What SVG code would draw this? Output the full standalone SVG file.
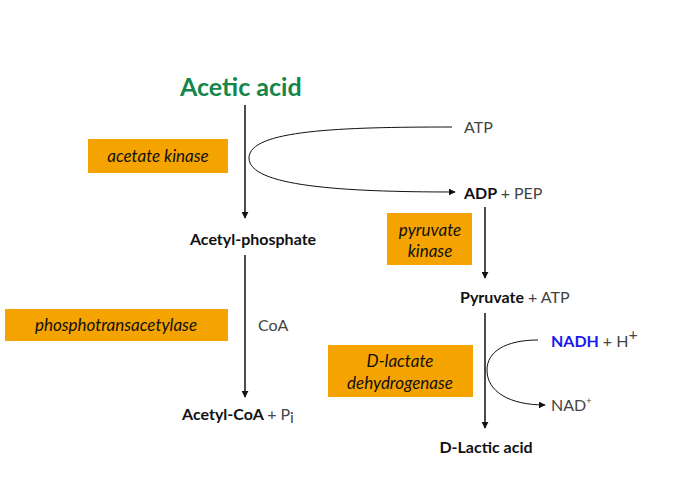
<svg xmlns="http://www.w3.org/2000/svg" width="690" height="480" viewBox="0 0 690 480">
<style>
text{font-family:Lato,"Open Sans",sans-serif;fill:#111}
.m{font-size:16px;font-weight:bold}
.l{font-size:16px;fill:#444;font-weight:normal}
.e{font-size:17px;font-style:italic}
.box{fill:#F5A300}
.ln{stroke:#111;stroke-width:1.5;fill:none}
.cv{stroke:#111;stroke-width:1;fill:none}
</style>
<defs>
<marker id="a" viewBox="0 0 10 10" refX="9" refY="5" markerWidth="7" markerHeight="7" orient="auto" markerUnits="userSpaceOnUse"><path d="M0,0L10,5L0,10z" fill="#111"/></marker>
</defs>
<rect width="690" height="480" fill="#fff"/>
<g id="acetic"><text x="180" y="96" style="font-size:25px;font-weight:bold;fill:#14864a">Acetic acid</text></g>
<g id="acetate-kinase"><rect class="box" x="88" y="139" width="140" height="34"/><text class="e" x="158" y="162" text-anchor="middle">acetate kinase</text></g>
<g id="atp1"><text class="l" x="464" y="133">ATP</text></g>
<g id="adp"><text x="464" y="199" class="m">ADP <tspan class="l" font-size="14">+ PEP</tspan></text></g>
<g id="acp"><text class="m" x="253" y="245" text-anchor="middle">Acetyl-phosphate</text></g>
<g id="pta"><rect class="box" x="5" y="309" width="223" height="32"/><text class="e" x="116" y="331" text-anchor="middle">phosphotransacetylase</text></g>
<g id="coa"><text class="l" x="258" y="331">CoA</text></g>
<g id="acoa"><text class="m" x="182" y="420">Acetyl-CoA <tspan class="l" font-size="14">+ P</tspan><tspan class="l" font-size="9" dy="3">i</tspan></text></g>
<g id="pk"><rect class="box" x="387" y="213" width="85" height="52"/><text class="e" x="430" y="236" text-anchor="middle">pyruvate</text><text class="e" x="430" y="257" text-anchor="middle">kinase</text></g>
<g id="pyr"><text x="460" y="303" class="m">Pyruvate <tspan class="l" font-size="14">+ ATP</tspan></text></g>
<g id="ldh"><rect class="box" x="328" y="345" width="145" height="52"/><text class="e" x="400" y="367" text-anchor="middle">D-lactate</text><text class="e" x="400" y="389" text-anchor="middle">dehydrogenase</text></g>
<g id="nadh"><text x="551" y="347" class="m" style="fill:#1a1aee">NADH <tspan class="l" font-size="14">+ H</tspan><tspan class="l" font-size="9" dy="-7">+</tspan></text></g>
<g id="nad"><text x="551" y="411" class="l">NAD<tspan font-size="9" dy="-7">+</tspan></text></g>
<g id="lac"><text class="m" x="486" y="453" text-anchor="middle">D-Lactic acid</text></g>
<g id="connectors">
<path class="ln" d="M245,105V218" marker-end="url(#a)"/>
<path class="ln" d="M245,255V397" marker-end="url(#a)"/>
<path class="ln" d="M485,207V278" marker-end="url(#a)"/>
<path class="ln" d="M485,313V428" marker-end="url(#a)"/>
<path class="cv" d="M452,127C340,127 249,130 249,158C249,186 340,192 455,192" marker-end="url(#a)"/>
<path class="cv" d="M538,340C505,340 487,352 487,370C487,392 510,405 545,405" marker-end="url(#a)"/>
</g>
</svg>
